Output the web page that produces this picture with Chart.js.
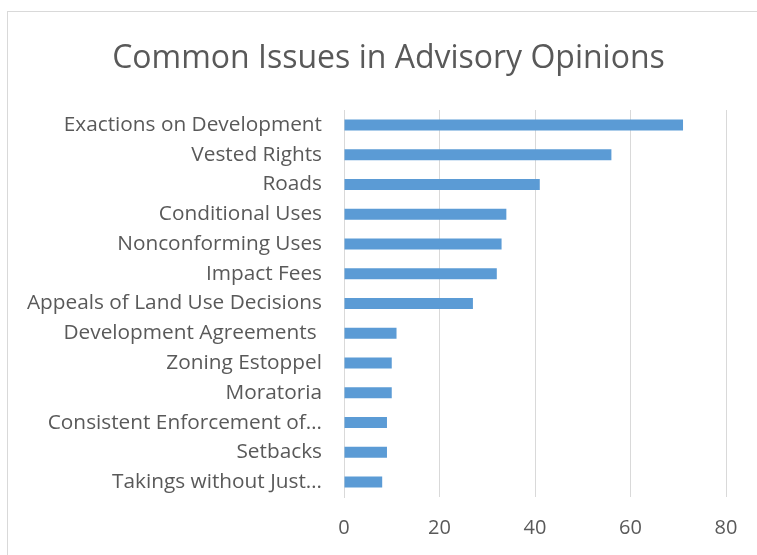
<!DOCTYPE html>
<html>
<head>
    <meta charset="UTF-8">
    <title>Common Issues in Advisory Opinions</title>
    <script src="https://cdn.jsdelivr.net/npm/chart.js"></script>
    <style>
        html, body { margin: 0; padding: 0; background: #fff; overflow: hidden; }
        #frame { position: absolute; left: 7px; top: 11px; width: 800px; height: 600px; border: 1px solid #d9d9d9; }
        #wrap { position: absolute; left: 0; top: 0; width: 757px; height: 555px; }
    </style>
</head>
<body>

<div id="frame"></div>
<div id="wrap"><canvas id="issuesChart"></canvas></div>

<script>
    // Categories, top to bottom
    var issues = [
        'Exactions on Development',
        'Vested Rights',
        'Roads',
        'Conditional Uses',
        'Nonconforming Uses',
        'Impact Fees',
        'Appeals of Land Use Decisions',
        'Development Agreements ',
        'Zoning Estoppel',
        'Moratoria',
        'Consistent Enforcement of…',
        'Setbacks',
        'Takings without Just…'
    ];

    // Number of advisory opinions per issue
    var counts = [71, 56, 41, 34, 33, 32, 27, 11, 10, 10, 9, 9, 8];

    // X axis ticks
    var xTicks = [0, 20, 40, 60, 80];

    var textColor = '#595959';
    var gridColor = '#d9d9d9';
    var fontFamily = '"Open Sans", "Noto Sans", sans-serif';

    // centre the title on the whole frame, not only up to the right padding
    var centerTitle = {
        id: 'centerTitle',
        afterLayout: function (chart) {
            if (chart.titleBlock) {
                chart.titleBlock.left = 0;
                chart.titleBlock.right = 777;
            }
        }
    };

    var chart = new Chart('issuesChart', {
        type: 'bar',
        data: {
            labels: issues,
            datasets: [{
                label: 'Count',
                data: counts,
                backgroundColor: '#5b9bd5',
                borderWidth: 0,
                categoryPercentage: 1,
                barPercentage: 0.37
            }]
        },
        plugins: [centerTitle],
        options: {
            indexAxis: 'y',
            responsive: true,
            maintainAspectRatio: false,
            animation: false,
            layout: {
                padding: { left: 0, right: 31, top: 0, bottom: 0 }
            },
            plugins: {
                legend: { display: false },
                tooltip: { enabled: false },
                title: {
                    display: true,
                    text: 'Common Issues in Advisory Opinions',
                    color: textColor,
                    font: { family: fontFamily, size: 32, weight: 'normal' },
                    padding: { top: 40, bottom: 31.6 }
                }
            },
            scales: {
                x: {
                    min: xTicks[0],
                    max: xTicks[xTicks.length - 1],
                    afterBuildTicks: function (scale) {
                        scale.ticks = xTicks.map(function (v) { return { value: v }; });
                    },
                    afterFit: function (scale) { scale.height = 58; },
                    grid: { color: gridColor, drawTicks: false, lineWidth: 1 },
                    border: { display: false },
                    ticks: {
                        color: textColor,
                        padding: 19,
                        font: { family: fontFamily, size: 20 }
                    }
                },
                y: {
                    afterFit: function (scale) { scale.width = 344; },
                    grid: { display: false, drawTicks: false },
                    border: { display: true, color: gridColor, width: 1 },
                    ticks: {
                        color: textColor,
                        padding: 22,
                        autoSkip: false,
                        font: { family: fontFamily, size: 20.8 }
                    }
                }
            }
        }
    });
</script>

</body>
</html>
